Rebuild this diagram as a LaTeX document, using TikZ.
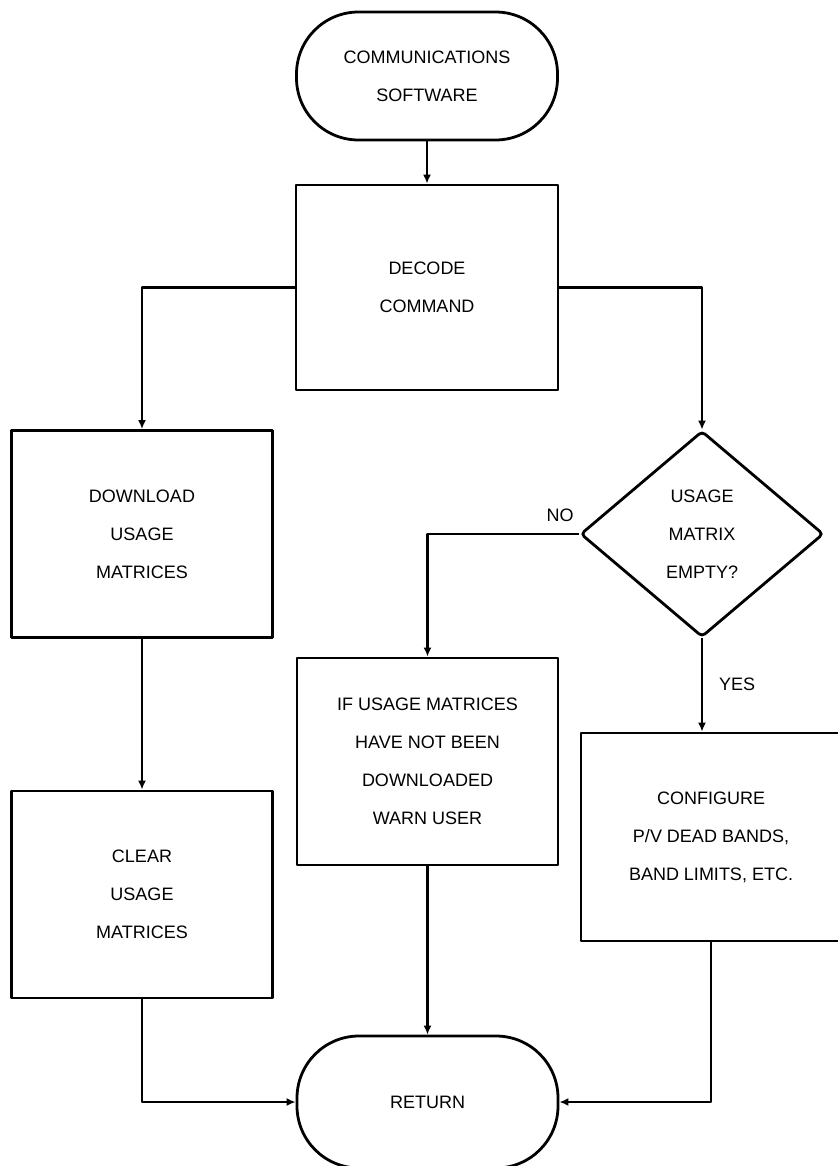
\documentclass[tikz,border=0pt]{standalone}
\usepackage{fontspec}
\setmainfont{Liberation Sans}
\usetikzlibrary{shapes.geometric,arrows.meta}
\tikzset{
box/.style={
  draw,
  rectangle,
  line width=1.4pt,
  line join=round,
  minimum width=130.5pt,
  minimum height=103.5pt,
  align=center,
  font=\fontsize{9}{19}\selectfont
},
term/.style={box, rounded corners=31pt, minimum height=64pt},
decision/.style={
  draw,
  diamond,
  line width=1.4pt,
  rounded corners=2pt,
  inner sep=0pt,
  minimum width=121.5pt,
  minimum height=103pt,
  align=center,
  font=\fontsize{9}{19}\selectfont
},
flow/.style={line width=1.4pt, line join=round, -{Latex[length=4.5pt,width=4pt]}},
tag/.style={font=\fontsize{9}{11}\selectfont}
}

\begin{document}
\begin{tikzpicture}[x=0.5pt,y=-0.5pt]
\useasboundingbox (0,0) rectangle (837,1166);
% the steps
\node[term] (start) at (427,76) {COMMUNICATIONS\\SOFTWARE};
\node[box, minimum width=131pt, minimum height=102.5pt] (decode) at (427,287.5) {DECODE\\COMMAND};
\node[box] (down) at (142,534) {DOWNLOAD\\USAGE\\MATRICES};
\node[decision] (check) at (702,534) {USAGE\\MATRIX\\EMPTY?};
\node[box] (warn) at (427.5,761.5) {IF USAGE MATRICES\\HAVE NOT BEEN\\DOWNLOADED\\WARN USER};
\node[box] (clear) at (142,894.5) {CLEAR\\USAGE\\MATRICES};
\node[box, minimum width=130pt, minimum height=104pt] (config) at (711,837) {CONFIGURE\\P/V DEAD BANDS,\\BAND LIMITS, ETC.};
\node[term, minimum height=66pt] (ret) at (427.5,1102) {RETURN};
% the answers
\node[tag] (no) at (560,515) {NO};
\node[tag] (yes) at (737,684) {YES};
% the arrows
\foreach \a/\b in {start/decode, down/clear, warn/ret}
{
  \draw[flow] (\a.south) -- (\b.north);
}
\draw[flow] (check.south) -- (check.south |- config.north);
\draw[flow] (decode.west) -| (down.north);
\draw[flow] (decode.east) -| (check.north);
\draw[flow] (check.west) -| (warn.north);
\draw[flow] (clear.south) |- (ret.west);
\draw[flow] (config.south) |- (ret.east);
\end{tikzpicture}
\end{document}
